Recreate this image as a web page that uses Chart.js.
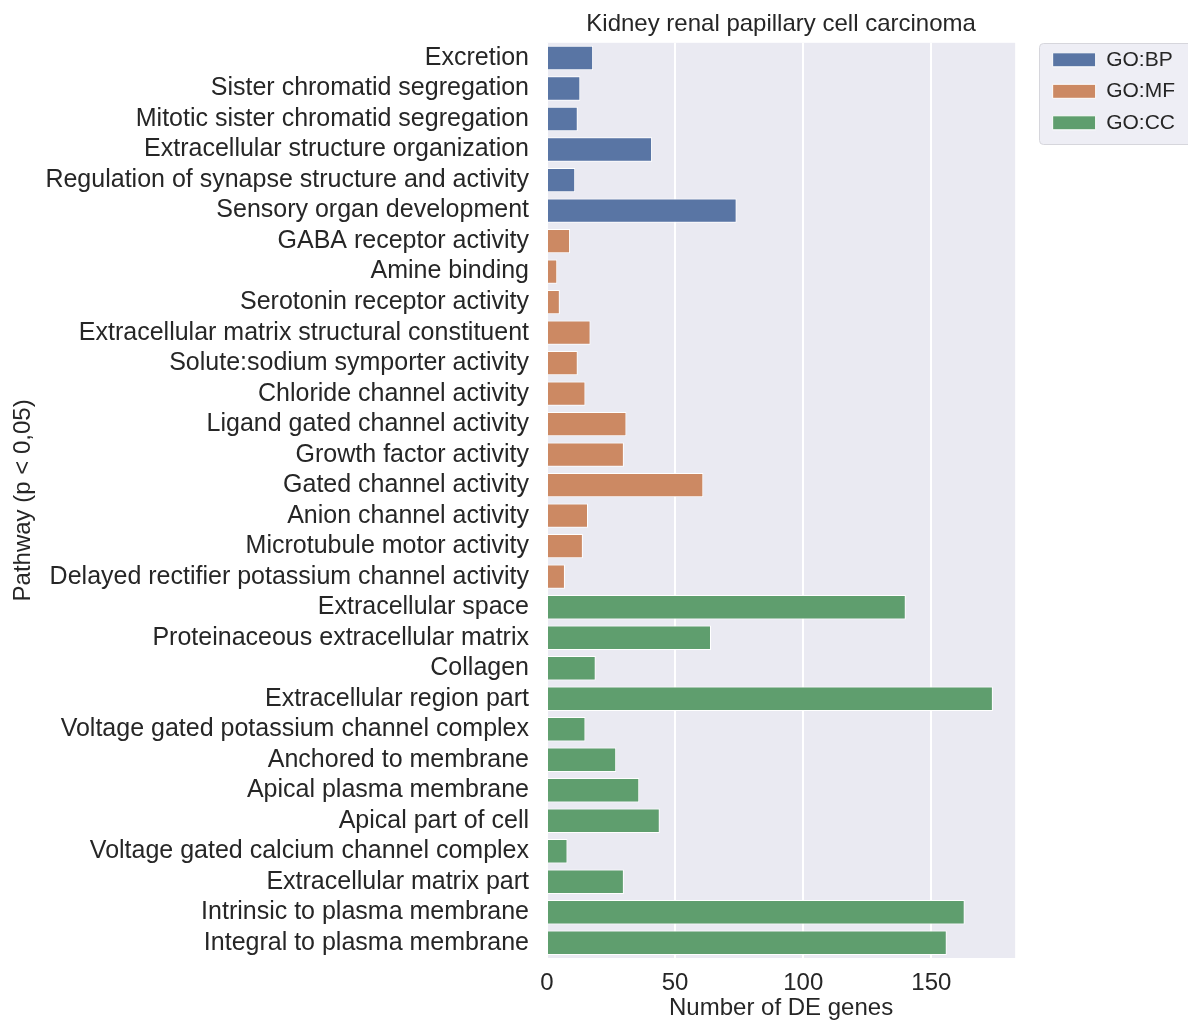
<!DOCTYPE html>
<html>
<head>
<meta charset="utf-8">
<title>Kidney renal papillary cell carcinoma</title>
<script src="https://cdn.jsdelivr.net/npm/chart.js@4.4.1/dist/chart.umd.min.js"></script>
<style>
    html, body { margin: 0; padding: 0; background: #ffffff; }
    #wrap { width: 1188px; height: 1021px; position: relative; }
</style>
</head>
<body>
<div id="wrap"><canvas id="goChart"></canvas></div>
<script>
// Pathways per GO group, top to bottom as in the figure
const bpLabels = ['Excretion', 'Sister chromatid segregation', 'Mitotic sister chromatid segregation',
    'Extracellular structure organization', 'Regulation of synapse structure and activity',
    'Sensory organ development'];
const bpValues = [18, 13, 12, 41, 11, 74];

const mfLabels = ['GABA receptor activity', 'Amine binding', 'Serotonin receptor activity',
    'Extracellular matrix structural constituent', 'Solute:sodium symporter activity',
    'Chloride channel activity', 'Ligand gated channel activity', 'Growth factor activity',
    'Gated channel activity', 'Anion channel activity', 'Microtubule motor activity',
    'Delayed rectifier potassium channel activity'];
const mfValues = [9, 4, 5, 17, 12, 15, 31, 30, 61, 16, 14, 7];

const ccLabels = ['Extracellular space', 'Proteinaceous extracellular matrix', 'Collagen',
    'Extracellular region part', 'Voltage gated potassium channel complex', 'Anchored to membrane',
    'Apical plasma membrane', 'Apical part of cell', 'Voltage gated calcium channel complex',
    'Extracellular matrix part', 'Intrinsic to plasma membrane', 'Integral to plasma membrane'];
const ccValues = [140, 64, 19, 174, 15, 27, 36, 44, 8, 30, 163, 156];

const groupNames = ['GO:BP', 'GO:MF', 'GO:CC'];
const xTicks = [0, 50, 100, 150];

const colores = ['#5975a4', '#cc8963', '#5f9e6e'];
const texto = '#262626';
const fuente = '"Liberation Sans", Arial, sans-serif';

document.addEventListener('DOMContentLoaded', function() {
    inicializarGrafico();
});

function construirDatasets() {
    const grupos = [bpValues, mfValues, ccValues];
    const total = bpValues.length + mfValues.length + ccValues.length;
    let inicio = 0;
    return grupos.map((valores, g) => {
        const data = new Array(total).fill(null);
        valores.forEach((v, i) => { data[inicio + i] = v; });
        inicio += valores.length;
        return {
            label: groupNames[g],
            data: data,
            backgroundColor: colores[g],
            borderColor: '#ffffff',
            borderWidth: 1,
            barPercentage: 0.8,
            categoryPercentage: 1.0
        };
    });
}

// fondo gris del area del grafico y marco de la leyenda
const fondoPlugin = {
    id: 'fondo',
    afterLayout(chart) {
        // la leyenda queda fuera del eje, alineada con la primera barra
        const lg = chart.legend;
        if (!lg) return;
        const dx = chart.chartArea.right + 27 - lg.left;
        const dy = chart.chartArea.top - 4 - lg.top;
        lg.left += dx; lg.right += dx;
        lg.top += dy; lg.bottom += dy;
    },
    beforeDraw(chart) {
        const ctx = chart.ctx;
        const a = chart.chartArea;
        ctx.save();
        ctx.fillStyle = '#eaeaf2';
        ctx.fillRect(a.left, a.top, a.right - a.left, a.bottom - a.top);

        const cajas = chart.legend && chart.legend.legendHitBoxes;
        if (cajas && cajas.length) {
            const pri = cajas[0];
            const ult = cajas[cajas.length - 1];
            const x = pri.left - 14;
            const y = pri.top + pri.height / 2 - 17;
            const w = chart.width + 20 - x;
            const h = ult.top + ult.height / 2 + 21 - y;
            ctx.fillStyle = 'rgba(234,234,242,0.8)';
            ctx.strokeStyle = '#d6d6dc';
            ctx.lineWidth = 1;
            ctx.beginPath();
            ctx.roundRect(Math.round(x) + 0.5, Math.round(y) + 0.5, w, h, 4);
            ctx.fill();
            ctx.stroke();
        }
        ctx.restore();
    }
};

function inicializarGrafico() {
    const ctx = document.getElementById('goChart').getContext('2d');

    new Chart(ctx, {
        type: 'bar',
        data: {
            labels: bpLabels.concat(mfLabels, ccLabels),
            datasets: construirDatasets()
        },
        options: {
            indexAxis: 'y',
            responsive: true,
            maintainAspectRatio: false,
            animation: false,
            grouped: false,
            layout: {
                padding: { left: 8, right: 30, top: 0, bottom: 0 }
            },
            scales: {
                x: {
                    min: 0,
                    max: 182.7,
                    grid: {
                        color: '#ffffff',
                        lineWidth: 2,
                        drawTicks: false
                    },
                    border: { display: false },
                    afterBuildTicks: (scale) => {
                        scale.ticks = xTicks.map(v => ({ value: v }));
                    },
                    ticks: {
                        font: { family: fuente, size: 24 },
                        color: texto,
                        padding: 11,
                        maxRotation: 0
                    },
                    title: {
                        display: true,
                        text: 'Number of DE genes',
                        font: { family: fuente, size: 24 },
                        color: texto,
                        padding: { top: 0, bottom: -2 }
                    },
                    afterFit: (scale) => { scale.height = 63; }
                },
                y: {
                    grid: { display: false, drawTicks: false },
                    border: { display: false },
                    ticks: {
                        autoSkip: false,
                        font: { family: fuente, size: 25 },
                        color: texto,
                        padding: 18
                    },
                    title: {
                        display: true,
                        text: 'Pathway (p < 0,05)',
                        font: { family: fuente, size: 24 },
                        color: texto,
                        padding: { top: 1, bottom: 0 }
                    },
                    afterFit: (scale) => { scale.width = 539; }
                }
            },
            plugins: {
                title: {
                    display: true,
                    text: 'Kidney renal papillary cell carcinoma',
                    font: { family: fuente, size: 24, weight: 'normal' },
                    color: texto,
                    fullSize: false,
                    padding: { top: 10, bottom: 4 }
                },
                legend: {
                    display: true,
                    position: 'right',
                    align: 'start',
                    fullSize: false,
                    labels: {
                        boxWidth: 43,
                        boxHeight: 14,
                        padding: 10.5,
                        color: texto,
                        font: { family: fuente, size: 21 }
                    }
                },
                tooltip: { enabled: false }
            }
        },
        plugins: [fondoPlugin]
    });
}
</script>
</body>
</html>
